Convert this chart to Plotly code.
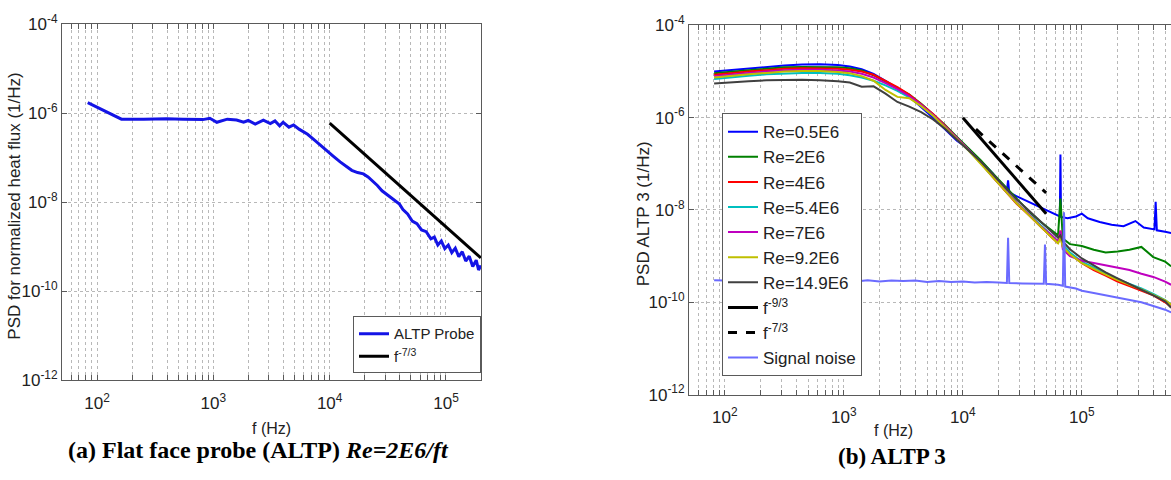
import plotly.graph_objects as go

W, H = 1171, 480

# ---------------- Panel (a): flat face probe (log10 values) ----------------
a_logf = [1.92, 2.21, 2.40, 2.60, 2.74, 2.91, 2.97, 3.03, 3.12, 3.20, 3.26, 3.30, 3.36, 3.43,
          3.49, 3.53, 3.57, 3.60, 3.65, 3.69, 3.74, 3.81, 3.87, 3.93, 3.98, 4.03, 4.09, 4.14,
          4.19, 4.24, 4.29, 4.33, 4.37, 4.41, 4.45, 4.50, 4.56, 4.60, 4.63, 4.67, 4.71, 4.75,
          4.79, 4.83, 4.87, 4.90, 4.93, 4.96, 4.99, 5.02, 5.05, 5.08, 5.11, 5.14, 5.17, 5.20,
          5.23, 5.26, 5.28, 5.30]
a_logpsd = [-5.76, -6.13, -6.13, -6.12, -6.13, -6.14, -6.11, -6.20, -6.13, -6.15, -6.20, -6.16,
            -6.24, -6.15, -6.23, -6.17, -6.28, -6.20, -6.31, -6.26, -6.36, -6.47, -6.60, -6.74,
            -6.86, -6.96, -7.09, -7.18, -7.28, -7.33, -7.36, -7.43, -7.52, -7.62, -7.74, -7.84,
            -7.97, -8.04, -8.16, -8.26, -8.42, -8.48, -8.62, -8.66, -8.82, -8.78, -8.96, -8.87,
            -9.04, -8.96, -9.13, -9.03, -9.22, -9.11, -9.32, -9.21, -9.44, -9.30, -9.52, -9.42]
a_ref_logf = [4.0, 5.30]
a_ref_logpsd = [-6.22, -9.25]

# ---------------- Panel (b): ALTP 3 ----------------
b_grid = [1.91, 2.05, 2.2, 2.35, 2.5, 2.65, 2.8, 2.95, 3.05, 3.15, 3.25, 3.35, 3.45, 3.55, 3.65,
          3.75, 3.85, 3.95, 4.05, 4.15, 4.25, 4.35, 4.45, 4.55, 4.65, 4.75, 4.80, 4.82, 4.84,
          4.90, 5.0, 5.1, 5.2, 5.3, 5.4, 5.5, 5.6, 5.7, 5.75]

re05_logf = [1.91, 2.05, 2.2, 2.35, 2.5, 2.65, 2.8, 2.95, 3.05, 3.15, 3.25, 3.35, 3.45, 3.55,
             3.65, 3.75, 3.85, 3.95, 4.05, 4.15, 4.25, 4.33, 4.37, 4.38, 4.39, 4.45, 4.55, 4.65,
             4.72, 4.80, 4.815, 4.82, 4.825, 4.88, 4.95, 5.00, 5.05, 5.15, 5.25, 5.35, 5.45,
             5.52, 5.61, 5.62, 5.63, 5.70, 5.75]
re05_logpsd = [-5.00, -4.97, -4.93, -4.90, -4.87, -4.85, -4.84, -4.86, -4.89, -4.95, -5.05,
               -5.20, -5.36, -5.54, -5.76, -6.00, -6.25, -6.50, -6.68, -6.93, -7.20, -7.50,
               -7.58, -7.36, -7.62, -7.70, -7.82, -7.95, -8.04, -8.12, -8.14, -6.80, -8.15,
               -8.18, -8.14, -8.08, -8.18, -8.26, -8.32, -8.35, -8.24, -8.38, -8.42, -7.82,
               -8.44, -8.47, -8.50]

re2_logpsd = [-5.04, -5.00, -4.97, -4.94, -4.91, -4.90, -4.90, -4.91, -4.93, -4.98, -5.08,
              -5.22, -5.36, -5.50, -5.70, -5.92, -6.16, -6.42, -6.66, -6.92, -7.20, -7.48,
              -7.76, -8.02, -8.25, -8.45, -8.55, -7.75, -8.62, -8.74, -8.78, -8.86, -8.92,
              -8.90, -8.86, -8.80, -9.02, -9.12, -9.22]
re4_logpsd = [-5.07, -5.03, -5.00, -4.97, -4.94, -4.93, -4.93, -4.94, -4.96, -5.00, -5.07,
              -5.20, -5.34, -5.50, -5.70, -5.92, -6.17, -6.44, -6.70, -6.98, -7.28, -7.58,
              -7.86, -8.10, -8.36, -8.60, -8.72, -8.45, -8.80, -8.95, -9.15, -9.30, -9.42,
              -9.55, -9.65, -9.75, -9.85, -10.00, -10.10]
re54_logpsd = [-5.16, -5.12, -5.09, -5.06, -5.04, -5.03, -5.03, -5.05, -5.08, -5.13, -5.20,
               -5.30, -5.42, -5.56, -5.74, -5.95, -6.19, -6.45, -6.71, -6.98, -7.27, -7.56,
               -7.84, -8.08, -8.33, -8.56, -8.68, -8.55, -8.75, -8.92, -9.12, -9.25, -9.38,
               -9.50, -9.60, -9.70, -9.82, -9.95, -10.05]
re7_logpsd = [-5.10, -5.06, -5.03, -5.00, -4.97, -4.96, -4.96, -4.98, -5.00, -5.05, -5.13,
              -5.25, -5.38, -5.53, -5.72, -5.94, -6.18, -6.44, -6.70, -6.97, -7.27, -7.56,
              -7.84, -8.08, -8.34, -8.56, -8.68, -8.45, -8.85, -9.00, -9.10, -9.15, -9.20,
              -9.25, -9.30, -9.38, -9.45, -9.55, -9.62]
re92_logpsd = [-5.13, -5.09, -5.06, -5.03, -5.00, -4.99, -4.99, -5.01, -5.04, -5.10, -5.20,
               -5.40, -5.55, -5.58, -5.75, -5.96, -6.20, -6.46, -6.72, -6.99, -7.28, -7.57,
               -7.85, -8.10, -8.36, -8.60, -8.72, -8.60, -8.80, -8.96, -9.15, -9.28, -9.40,
               -9.52, -9.62, -9.72, -9.84, -9.96, -10.05]
re149_logpsd = [-5.26, -5.23, -5.21, -5.19, -5.18, -5.18, -5.19, -5.21, -5.24, -5.33, -5.32,
                -5.48, -5.66, -5.76, -5.88, -6.04, -6.24, -6.47, -6.70, -6.95, -7.22, -7.50,
                -7.77, -8.00, -8.25, -8.48, -8.60, -8.55, -8.68, -8.85, -9.05, -9.20, -9.35,
                -9.48, -9.60, -9.72, -9.85, -9.98, -10.12]

noise_logf = [1.91, 2.0, 2.1, 2.2, 2.3, 2.4, 2.5, 2.6, 2.7, 2.8, 2.9, 3.0, 3.1, 3.2, 3.3, 3.4,
              3.5, 3.6, 3.7, 3.8, 3.9, 4.0, 4.1, 4.2, 4.3, 4.37, 4.38, 4.39, 4.5, 4.6, 4.68,
              4.69, 4.70, 4.8, 4.84, 4.85, 4.86, 4.95, 5.0, 5.1, 5.2, 5.3, 5.4, 5.5, 5.6, 5.7,
              5.75]
noise_logpsd = [-9.52, -9.53, -9.52, -9.54, -9.53, -9.52, -9.54, -9.53, -9.55, -9.52, -9.54,
                -9.52, -9.55, -9.52, -9.55, -9.53, -9.54, -9.53, -9.56, -9.54, -9.56, -9.55,
                -9.57, -9.56, -9.57, -9.58, -8.60, -9.58, -9.59, -9.60, -9.60, -8.75, -9.60,
                -9.62, -9.64, -8.05, -9.66, -9.70, -9.75, -9.80, -9.85, -9.90, -9.95, -10.00,
                -10.08, -10.16, -10.22]

f93_logf = [4.0, 4.70]
f93_logpsd = [-6.0, -8.08]
f73_logf = [4.11, 4.70]
f73_logpsd = [-6.25, -7.63]

x_tick_exps = [2, 3, 4, 5]
y_tick_exps = [-12, -10, -8, -6, -4]


def p10(v):
    return [10 ** x for x in v]


FONT = "Liberation Sans, Arial, sans-serif"
SERIF = "Liberation Serif, Times New Roman, serif"

fig = go.Figure()

# panel (a)
fig.add_trace(go.Scatter(x=p10(a_logf), y=p10(a_logpsd), mode="lines", name="ALTP Probe",
                         line=dict(color="#1414e6", width=3), xaxis="x", yaxis="y",
                         legend="legend", legendgroup="a1"))
fig.add_trace(go.Scatter(x=p10(a_ref_logf), y=p10(a_ref_logpsd), mode="lines",
                         name="f<sup>-7/3</sup>", line=dict(color="black", width=3),
                         xaxis="x", yaxis="y", legend="legend", legendgroup="a2"))

# panel (b)
series_b = [
    ("Re=0.5E6", re05_logf, re05_logpsd, "#0000ff"),
    ("Re=2E6", b_grid, re2_logpsd, "#008000"),
    ("Re=4E6", b_grid, re4_logpsd, "#ff0000"),
    ("Re=5.4E6", b_grid, re54_logpsd, "#00bfbf"),
    ("Re=7E6", b_grid, re7_logpsd, "#bf00bf"),
    ("Re=9.2E6", b_grid, re92_logpsd, "#bfbf00"),
    ("Re=14.9E6", b_grid, re149_logpsd, "#404040"),
]
for i, (nm, fx, py, col) in enumerate(series_b):
    fig.add_trace(go.Scatter(x=p10(fx), y=p10(py), mode="lines", name=nm,
                             line=dict(color=col, width=2), xaxis="x2", yaxis="y2",
                             legend="legend2", legendgroup="b%d" % i))
fig.add_trace(go.Scatter(x=p10(f93_logf), y=p10(f93_logpsd), mode="lines",
                         name="f<sup>-9/3</sup>", line=dict(color="black", width=3),
                         xaxis="x2", yaxis="y2", legend="legend2", legendgroup="b7"))
fig.add_trace(go.Scatter(x=p10(f73_logf), y=p10(f73_logpsd), mode="lines",
                         name="f<sup>-7/3</sup>", line=dict(color="black", width=3, dash="dash"),
                         xaxis="x2", yaxis="y2", legend="legend2", legendgroup="b8"))
fig.add_trace(go.Scatter(x=p10(noise_logf), y=p10(noise_logpsd), mode="lines",
                         name="Signal noise", line=dict(color="#6b6bff", width=2),
                         xaxis="x2", yaxis="y2", legend="legend2", legendgroup="b9"))


def x_ticks(lo, hi):
    vals, txt = [], []
    for e in range(1, 7):
        for n in range(1, 10):
            v = n * 10 ** e
            if lo <= v <= hi * 1.0001:
                vals.append(v)
                txt.append("10<sup>%d</sup>" % e if (n == 1 and e in x_tick_exps) else "")
    return vals, txt


xa_vals, xa_txt = x_ticks(50, 2e5)
xb_vals, xb_txt = x_ticks(50, 6e5)
y_vals = [10.0 ** e for e in y_tick_exps]
y_txt = ["10<sup>%d</sup>" % e for e in y_tick_exps]

axis_common = dict(type="log", showgrid=True, gridcolor="#b8b8b8", griddash="dot", gridwidth=1,
                   showline=True, linecolor="#5a5a5a", linewidth=1, ticks="inside", ticklen=5,
                   tickcolor="#5a5a5a", tickfont=dict(family=FONT, size=17, color="#222"),
                   zeroline=False, tickmode="array")

fig.update_layout(
    width=W, height=H, margin=dict(l=0, r=0, t=0, b=0),
    paper_bgcolor="white", plot_bgcolor="white",
    xaxis=dict(axis_common, domain=[62 / W, 481 / W], range=[1.699, 5.301], anchor="y",
               tickvals=xa_vals, ticktext=xa_txt, mirror="ticks", ticklabelstandoff=7),
    yaxis=dict(axis_common, domain=[1 - 386 / H, 1 - 13 / H], range=[-12, -4], anchor="x",
               tickvals=y_vals, ticktext=y_txt, mirror="ticks"),
    xaxis2=dict(axis_common, domain=[689 / W, 1.0], range=[1.699, 5.749], anchor="y2",
                tickvals=xb_vals, ticktext=xb_txt, mirror="ticks", ticklabelstandoff=7),
    yaxis2=dict(axis_common, domain=[1 - 401 / H, 1 - 14 / H], range=[-12, -4], anchor="x2",
                tickvals=y_vals, ticktext=y_txt, mirror=False),
    legend=dict(x=481 / W, xanchor="right", y=1 - 319 / H, yanchor="top",
                bgcolor="white", bordercolor="#5a5a5a", borderwidth=1,
                font=dict(family=FONT, size=15, color="#222"), tracegroupgap=9,
                traceorder="normal"),
    legend2=dict(x=722 / W, xanchor="left", y=1 - 106 / H, yanchor="top",
                 bgcolor="white", bordercolor="#5a5a5a", borderwidth=1,
                 font=dict(family=FONT, size=17, color="#222"), tracegroupgap=7.5,
                 traceorder="normal"),
    showlegend=True,
)

ann = [
    dict(text="PSD for normalized heat flux (1/Hz)", x=15 / W, y=1 - 204 / H, textangle=-90,
         font=dict(family=FONT, size=17, color="#222")),
    dict(text="PSD ALTP 3 (1/Hz)", x=643 / W, y=1 - 212 / H, textangle=-90,
         font=dict(family=FONT, size=17, color="#222")),
    dict(text="f (Hz)", x=271 / W, y=1 - 436 / H, font=dict(family=FONT, size=16, color="#222")),
    dict(text="f (Hz)", x=893 / W, y=1 - 439 / H, font=dict(family=FONT, size=16, color="#222")),
    dict(text="<b>(a) Flat face probe (ALTP) <i>Re=2E6/ft</i></b>", x=258 / W, y=1 - 459 / H,
         font=dict(family=SERIF, size=24, color="black")),
    dict(text="<b>(b) ALTP 3</b>", x=892 / W, y=1 - 466 / H,
         font=dict(family=SERIF, size=23, color="black")),
]
for a in ann:
    a.update(xref="paper", yref="paper", showarrow=False, xanchor="center", yanchor="middle")
fig.update_layout(annotations=ann)

fig.write_html("out.html")
